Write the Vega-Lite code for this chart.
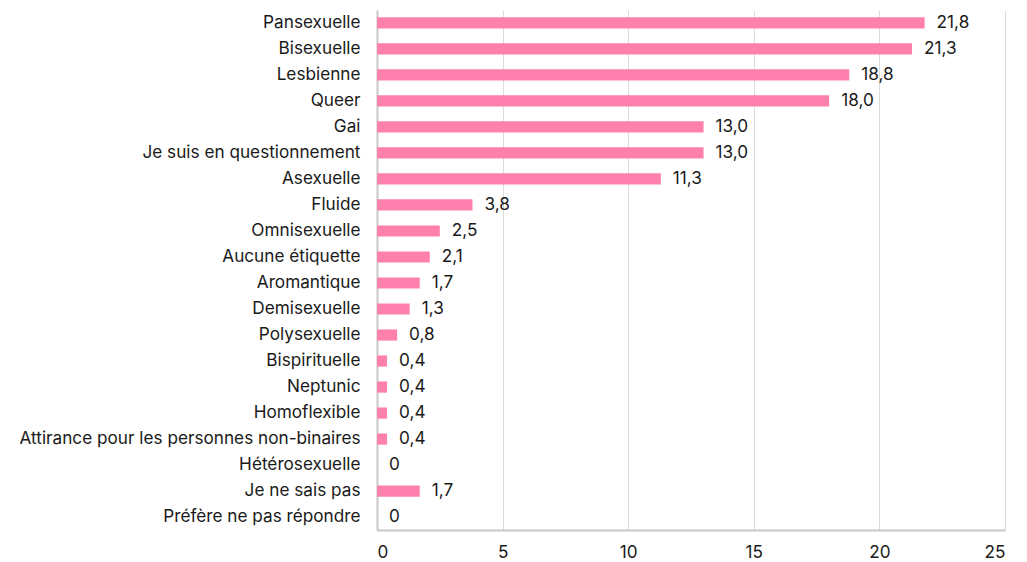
{
  "$schema": "https://vega.github.io/schema/vega-lite/v6.json",
  "width": 628,
  "height": 520,
  "autosize": {"type": "none"},
  "padding": {"left": 377, "top": 10, "right": 22, "bottom": 32},
  "background": "white",
  "data": {"values": [
    {"cat": "Pansexuelle", "v": 21.8},
    {"cat": "Bisexuelle", "v": 21.3},
    {"cat": "Lesbienne", "v": 18.8},
    {"cat": "Queer", "v": 18.0},
    {"cat": "Gai", "v": 13.0},
    {"cat": "Je suis en questionnement", "v": 13.0},
    {"cat": "Asexuelle", "v": 11.3},
    {"cat": "Fluide", "v": 3.8},
    {"cat": "Omnisexuelle", "v": 2.5},
    {"cat": "Aucune étiquette", "v": 2.1},
    {"cat": "Aromantique", "v": 1.7},
    {"cat": "Demisexuelle", "v": 1.3},
    {"cat": "Polysexuelle", "v": 0.8},
    {"cat": "Bispirituelle", "v": 0.4},
    {"cat": "Neptunic", "v": 0.4},
    {"cat": "Homoflexible", "v": 0.4},
    {"cat": "Attirance pour les personnes non-binaires", "v": 0.4},
    {"cat": "Hétérosexuelle", "v": 0},
    {"cat": "Je ne sais pas", "v": 1.7},
    {"cat": "Préfère ne pas répondre", "v": 0}
  ]},
  "transform": [
    {"calculate": "datum.v == 0 ? '0' : replace(format(datum.v, '.1f'), '.', ',')", "as": "lbl"}
  ],
  "encoding": {
    "y": {
      "field": "cat", "type": "nominal", "sort": null, "title": null,
      "scale": {"paddingInner": 0.57, "paddingOuter": 0.28},
      "axis": {"ticks": false, "labelFontSize": 17.2, "labelColor": "#1a1a1a", "labelPadding": 17, "domainColor": "#c8c8c8", "domainWidth": 2, "labelFont": "Inter", "labelLimit": 400}
    },
    "x": {
      "field": "v", "type": "quantitative", "title": null,
      "scale": {"domain": [0, 25], "nice": false},
      "axis": {"values": [0, 5, 10, 15, 20, 25], "ticks": false, "labelFontSize": 17.2, "labelColor": "#1a1a1a", "labelPadding": 13, "domainColor": "#c8c8c8", "domainWidth": 2, "gridColor": "#dcdcdc", "gridWidth": 1, "labelFont": "Inter"}
    }
  },
  "layer": [
    {"mark": {"type": "bar", "color": "#ff80ac"}},
    {"mark": {"type": "text", "align": "left", "baseline": "middle", "dx": 12, "fontSize": 17.2, "font": "Inter", "color": "#1a1a1a"},
     "encoding": {"text": {"field": "lbl"}}}
  ],
  "config": {"view": {"stroke": null}}
}
